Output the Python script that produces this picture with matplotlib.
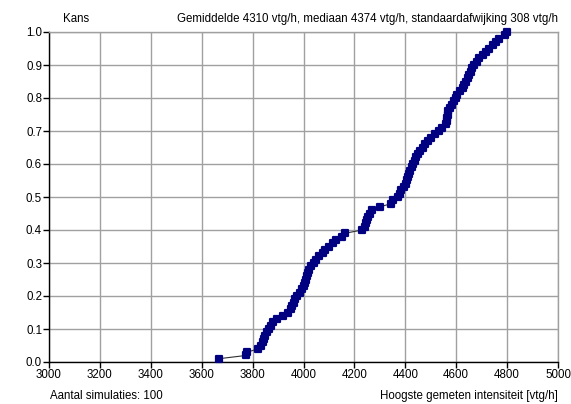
import matplotlib
matplotlib.use("Agg")
import matplotlib.pyplot as plt
from matplotlib.markers import MarkerStyle

# Highest measured intensity per simulation run (vtg/h), sorted ascending
intensities = [
    3668, 3776, 3779, 3823, 3833, 3840, 3845, 3850, 3858, 3866,
    3873, 3882, 3895, 3920, 3940, 3950, 3955, 3962, 3968, 3975,
    3985, 3995, 4001, 4005, 4008, 4013, 4018, 4022, 4030, 4040,
    4048, 4060, 4075, 4085, 4100, 4115, 4128, 4150, 4163, 4230,
    4240, 4246, 4250, 4255, 4260, 4270, 4300, 4345, 4352, 4370,
    4378, 4385, 4395, 4403, 4408, 4412, 4416, 4420, 4425, 4430,
    4437, 4443, 4450, 4458, 4468, 4478, 4490, 4502, 4515, 4532,
    4545, 4560, 4562, 4564, 4566, 4568, 4575, 4583, 4590, 4598,
    4605, 4615, 4625, 4632, 4640, 4646, 4652, 4658, 4663, 4670,
    4680, 4690, 4705, 4718, 4730, 4745, 4755, 4770, 4790, 4800,
]
n_sims = len(intensities)
probabilities = [(i + 1) / n_sims for i in range(n_sims)]

x_ticks = [3000, 3200, 3400, 3600, 3800, 4000, 4200, 4400, 4600, 4800, 5000]
y_ticks = [0.0, 0.1, 0.2, 0.3, 0.4, 0.5, 0.6, 0.7, 0.8, 0.9, 1.0]

mean_val = 4310
median_val = 4374
std_val = 308

plt.rcParams['font.family'] = ['Liberation Sans', 'DejaVu Sans']
fs = 8.3

fig = plt.figure(figsize=(5.71, 4.04), dpi=100)
ax = fig.add_axes([49 / 571, 42 / 404, 509 / 571, 330 / 404])

grid_c = '#a0a0a0'
ax.set_xlim(3000, 5000)
ax.set_ylim(0.0, 1.0)
ax.set_xticks(x_ticks)
ax.set_yticks(y_ticks)
ax.set_xticklabels([str(v) for v in x_ticks])
ax.set_yticklabels([f"{v:.1f}" for v in y_ticks])
ax.grid(True, color=grid_c, linewidth=1.0)
ax.set_axisbelow(True)
ax.tick_params(direction='out', length=4, width=1, colors='black',
               labelsize=fs, pad=1)

for side in ('top', 'right'):
    ax.spines[side].set_color(grid_c)
    ax.spines[side].set_linewidth(1.0)
for side in ('left', 'bottom'):
    ax.spines[side].set_color('black')
    ax.spines[side].set_linewidth(1.0)

# rounded square markers joined by a thin dark line
marker = MarkerStyle('s', joinstyle='round')
ax.plot(intensities, probabilities, color='#303030', linewidth=0.8,
        marker=marker, markersize=5.0, markerfacecolor='#000080',
        markeredgecolor='#000080', markeredgewidth=1.6, zorder=3,
        clip_on=False)

fig.text(63 / 571, 1 - 19 / 404, "Kans", fontsize=fs, ha='left', va='center')
fig.text(558 / 571, 1 - 19 / 404,
         f"Gemiddelde {mean_val} vtg/h, mediaan {median_val} vtg/h, "
         f"standaardafwijking {std_val} vtg/h",
         fontsize=fs, ha='right', va='center')
fig.text(50 / 571, 1 - 396 / 404, f"Aantal simulaties: {n_sims}",
         fontsize=fs, ha='left', va='center')
fig.text(558 / 571, 1 - 396 / 404, "Hoogste gemeten intensiteit [vtg/h]",
         fontsize=fs, ha='right', va='center')

fig.savefig("out.png", dpi=100, facecolor='white')
